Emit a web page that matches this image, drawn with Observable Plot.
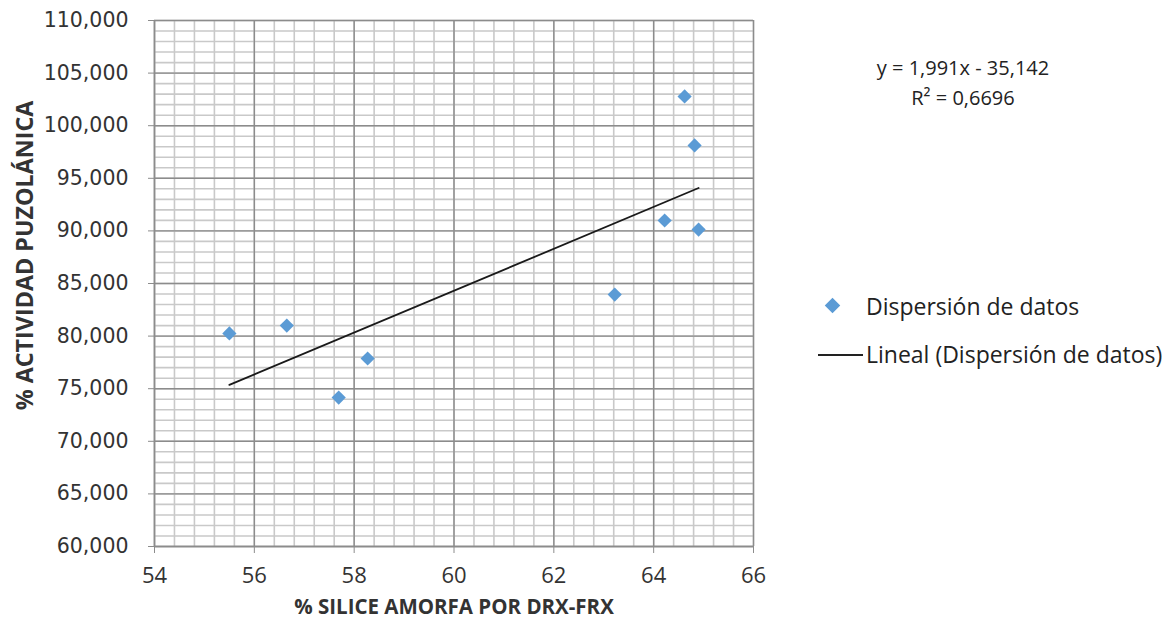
<!DOCTYPE html>
<html>
<head>
<meta charset="utf-8">
<script src="https://cdn.jsdelivr.net/npm/d3@7"></script>
<script src="https://cdn.jsdelivr.net/npm/@observablehq/plot@0.6"></script>
<style>
  html, body { margin: 0; padding: 0; background: #fff; }
  #wrap { position: relative; width: 1175px; height: 619px; font-family: "Open Sans", sans-serif; color: #222; }
  .ann { position: absolute; white-space: nowrap; line-height: 30px; }
  #eq { left: 963px; top: 53px; transform: translateX(-50%); text-align: center; font-size: 20px; }
  #leg1 { left: 866px; top: 291px; font-size: 23px; }
  #leg2 { left: 866px; top: 339px; font-size: 23px; }
  #legDia { position: absolute; left: 827px; top: 300px; width: 11px; height: 11px; background: #5B9BD5; transform: rotate(45deg); }
  #legLine { position: absolute; left: 818px; top: 354px; width: 45px; height: 1.6px; background: #222; }
</style>
</head>
<body>
<div id="wrap"></div>
<script>
// ---- Data ----
const silice = [55.5, 56.65, 57.69, 58.27, 63.22, 64.22, 64.62, 64.82, 64.90];
const actividad = [80.25, 81.0, 74.16, 77.87, 83.95, 90.99, 102.78, 98.12, 90.13];
const slope = 1.991;
const intercept = -35.142;
const r2 = "0,6696";
const xTicks = [54, 56, 58, 60, 62, 64, 66];
const yTicks = [60, 65, 70, 75, 80, 85, 90, 95, 100, 105, 110];
const seriesName = "Dispersión de datos";
const trendName = "Lineal (Dispersión de datos)";
const xTitle = "% SILICE AMORFA POR DRX-FRX";
const yTitle = "% ACTIVIDAD PUZOLÁNICA";

const points = silice.map((x, i) => ({x, y: actividad[i]}));
const [x0, x1] = d3.extent(silice);
const trend = [x0, x1].map(x => ({x, y: slope * x + intercept}));

const xMinor = d3.range(54, 66.001, 0.4).map(v => +v.toFixed(2));
const yMinor = d3.range(60, 110.001, 1);

const fmtY = d => d.toFixed(3).replace(".", ",");

const chart = Plot.plot({
  width: 1175,
  height: 619,
  marginLeft: 154,
  marginRight: 422,
  marginTop: 20,
  marginBottom: 73,
  x: {domain: [54, 66]},
  y: {domain: [60, 110]},
  style: {fontFamily: "Open Sans, sans-serif", color: "#333", background: "#fff"},
  marks: [
    Plot.gridX(xMinor, {stroke: "#c9c9c9", strokeWidth: 1.6, strokeOpacity: 1}),
    Plot.gridY(yMinor, {stroke: "#c9c9c9", strokeWidth: 1.6, strokeOpacity: 1}),
    Plot.gridX(xTicks, {stroke: "#8c8c8c", strokeWidth: 1.4, strokeOpacity: 1}),
    Plot.gridY(yTicks, {stroke: "#8c8c8c", strokeWidth: 1.4, strokeOpacity: 1}),
    Plot.ruleX([54], {stroke: "#8c8c8c", strokeWidth: 1.4}),
    Plot.ruleY([60], {stroke: "#8c8c8c", strokeWidth: 1.4}),
    Plot.axisX(xTicks, {tickSize: 7, tickPadding: 14, stroke: "#8c8c8c", fontSize: 22, label: null, tickFormat: d => String(d)}),
    Plot.axisY(yTicks, {tickSize: 6, tickPadding: 20, stroke: "#8c8c8c", fontSize: 20.5, label: null, tickFormat: fmtY}),
    Plot.line(trend, {x: "x", y: "y", stroke: "#1a1a1a", strokeWidth: 1.8}),
    Plot.dot(points, {x: "x", y: "y", symbol: "diamond2", r: 6.4, fill: "#5B9BD5", stroke: "none"}),
    Plot.text([xTitle], {frameAnchor: "bottom", dy: 67, fontSize: 20.5, fontWeight: "bold", fill: "#333"}),
    Plot.text([yTitle], {frameAnchor: "left", textAnchor: "middle", dx: -129, dy: -28, rotate: -90, fontSize: 23.3, fontWeight: "bold", fill: "#333"})
  ]
});
// y tick labels use a wider face, as in the reference
d3.select(chart).selectAll('g[aria-label="y-axis tick label"] text').style("font-family", "DejaVu Sans, Verdana, sans-serif");

const wrap = document.getElementById("wrap");
wrap.appendChild(chart);

const eq = document.createElement("div");
eq.className = "ann"; eq.id = "eq";
const sign = intercept < 0 ? " - " : " + ";
eq.innerHTML = "y = " + String(slope).replace(".", ",") + "x" + sign + String(Math.abs(intercept)).replace(".", ",") +
  "<br>R² = " + r2;
wrap.appendChild(eq);

const dia = document.createElement("div"); dia.id = "legDia"; wrap.appendChild(dia);
const l1 = document.createElement("div"); l1.className = "ann"; l1.id = "leg1"; l1.textContent = seriesName; wrap.appendChild(l1);
const ln = document.createElement("div"); ln.id = "legLine"; wrap.appendChild(ln);
const l2 = document.createElement("div"); l2.className = "ann"; l2.id = "leg2"; l2.textContent = trendName; wrap.appendChild(l2);
</script>
</body>
</html>
